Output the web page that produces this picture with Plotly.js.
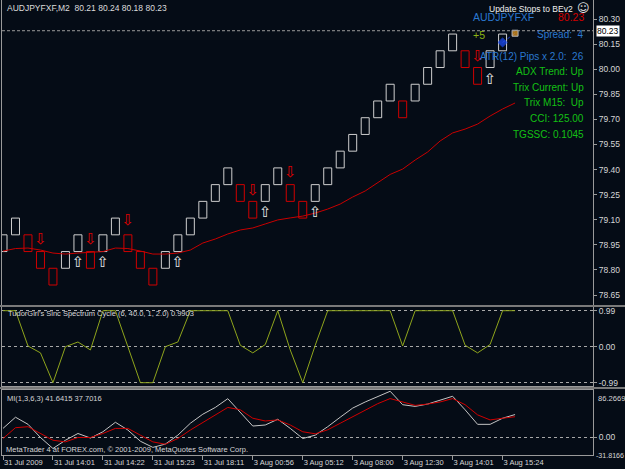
<!DOCTYPE html>
<html><head><meta charset="utf-8">
<script src="https://cdn.plot.ly/plotly-3.0.1.min.js"></script>
<style>html,body{margin:0;padding:0;background:#050c16;overflow:hidden}#chart{width:625px;height:469px}</style>
</head><body><div id="chart"></div>
<script>
// ---------- data ----------
const brickOpen  = [78.91,79.01,79.01,78.91,78.81,78.81,78.91,78.91,78.91,79.01,79.01,78.91,78.81,78.81,78.91,79.01,79.11,79.21,79.31,79.31,79.21,79.21,79.31,79.31,79.21,79.21,79.31,79.41,79.51,79.61,79.71,79.81,79.81,79.81,79.91,80.01,80.11,80.11,80.01,80.01,80.11];
const brickClose = [79.01,79.11,78.91,78.81,78.71,78.91,79.01,78.81,79.01,79.11,78.91,78.81,78.71,78.91,79.01,79.11,79.21,79.31,79.41,79.21,79.11,79.31,79.41,79.21,79.11,79.31,79.41,79.51,79.61,79.71,79.81,79.91,79.71,79.91,80.01,80.11,80.21,80.01,79.91,80.11,80.21];
const maValues = [78.913,78.928,78.931,78.919,78.901,78.895,78.901,78.907,78.910,78.931,78.928,78.913,78.895,78.895,78.901,78.919,78.961,78.985,79.015,79.039,79.051,79.075,79.099,79.111,79.122,79.140,79.164,79.194,79.236,79.272,79.320,79.371,79.403,79.457,79.505,79.571,79.619,79.642,79.672,79.720,79.762,79.798];
const downArrowIdx = [3,7,10,20,23,38];
const downArrowPrice = [78.98,78.98,79.09,79.27,79.38,80.07];
const upArrowIdx = [6,8,14,21,25,39];
const upArrowPrice = [78.84,78.84,78.84,79.14,79.14,79.935];
const orderIdx = [40,41];
const orderPrice = [80.16,80.215];
const currentPrice = 80.23;

const sincValues = [0.99,0.99,0.02,-0.17,-0.99,0.00,0.13,-0.09,0.99,0.99,0.00,-0.99,-0.99,0.00,0.13,0.99,0.99,0.99,0.99,0.04,-0.17,0.06,0.99,-0.09,-0.99,0.04,0.99,0.99,0.99,0.99,0.99,0.99,0.02,0.99,0.99,0.99,0.99,0.04,-0.17,0.06,0.99,0.9903];
const sincTickVals = [0.99,0,-0.99];
const sincTickText = ['0.99','0.00','-0.99'];

const miMain   = [16.5,36.8,24.0,0.0,-20.0,-5.0,7.3,-1.0,10.4,27.6,13.5,-6.8,-18.0,-12.0,4.2,25.8,42.3,54.6,70.5,45.4,20.8,22.7,33.1,16.5,-1.9,4.2,19.6,36.8,53.4,64.5,74.0,84.0,59.5,56.5,60.7,67.5,74.9,50.3,23.9,23.9,35.0,41.6415];
const miSignal = [-1.9,17.8,19.6,8.0,-5.0,-8.0,0.0,0.0,7.3,16.5,16.5,4.2,-8.0,-12.3,-1.9,13.5,27.6,41.1,54.6,50.3,35.0,30.0,31.9,22.7,10.4,6.7,14.0,25.8,38.1,50.3,61.4,70.7,64.5,58.3,60.7,64.5,70.7,59.5,41.1,31.9,35.0,37.7016];
const miMax = 86.2669, miMin = -31.8166;

const timeTickIdx  = [0,4,8,12,16,20,24,28,32,36,40];
const timeTickText = ['31 Jul 2009','31 Jul 14:01','31 Jul 14:22','31 Jul 15:23','31 Jul 18:11','3 Aug 00:56','3 Aug 05:12','3 Aug 08:00','3 Aug 12:30','3 Aug 14:01','3 Aug 15:24'];

const chartTitle = 'AUDJPYFXF,M2\u00a0\u00a080.21 80.24 80.18 80.23';
const sincTitle = "TudorGirl's Sinc Spectrum Cycle (6, 40.0, 1, 2.0) 0.9903";
const miTitle = 'MI(1,3,6,3) 41.6415 37.7016';
const copyright = 'MetaTrader 4 at FOREX.com, \u00a9 2001-2009, MetaQuotes Software Corp.';
const infoLabels = ['Spread:\u00a0\u00a04','ATR(12) Pips x 2.0:\u00a0\u00a026','ADX Trend: Up','Trix Current: Up','Trix M15:\u00a0\u00a0Up','CCI: 125.00','TGSSC: 0.1045'];
const infoColors = ['#2a78d0','#2a78d0','#14c014','#14c014','#14c014','#14c014','#14c014'];

// ---------- styling / layout helpers ----------
const W = 625, H = 469;
const ML = 2, MR = 32;
const PW = W - ML - MR;
const BG = '#050c16';
const FONT = 'Liberation Sans, Arial, sans-serif';
const px = x => (x - ML) / PW;
const py = y => 1 - y / H;
const dom = (top, bot) => [1 - bot / H, 1 - top / H];

const idx = brickOpen.map((_, i) => i);
const base = brickOpen.map((o, i) => Math.min(o, brickClose[i]));
const hgt = brickOpen.map((o, i) => Math.abs(brickClose[i] - o));
const lineCol = brickOpen.map((o, i) => brickClose[i] > o ? '#cfcfcf' : '#d00000');
const seq = a => a.map((_, i) => i);

const traces = [
  {type:'bar', x: idx, y: hgt, base: base, width: 0.64, xaxis:'x', yaxis:'y',
   marker:{color:'rgba(0,0,0,0)', line:{color: lineCol, width:1}}, hoverinfo:'skip'},
  {type:'scatter', mode:'lines', x: seq(maValues), y: maValues, xaxis:'x', yaxis:'y',
   line:{color:'#c80000', width:1}, hoverinfo:'skip'},
  {type:'scatter', mode:'text', x: downArrowIdx, y: downArrowPrice, text: downArrowIdx.map(()=>'\u21e9'),
   textfont:{family:'DejaVu Sans', size:15, color:'#e00000'}, xaxis:'x', yaxis:'y', hoverinfo:'skip'},
  {type:'scatter', mode:'text', x: upArrowIdx, y: upArrowPrice, text: upArrowIdx.map(()=>'\u21e7'),
   textfont:{family:'DejaVu Sans', size:15, color:'#e8e8e8'}, xaxis:'x', yaxis:'y', hoverinfo:'skip'},
  {type:'scatter', mode:'lines+markers', x: orderIdx, y: orderPrice, xaxis:'x', yaxis:'y',
   line:{color:'#1e3cc8', width:1, dash:'dot'},
   marker:{symbol:['diamond','square'], size:[7,6], color:['#1e50ff','#f0a020'], line:{color:['#1e50ff','#ffffff'], width:1}},
   hoverinfo:'skip'},
  {type:'scatter', mode:'lines', x: seq(sincValues), y: sincValues, xaxis:'x2', yaxis:'y2',
   line:{color:'#8fa51c', width:1}, hoverinfo:'skip'},
  {type:'scatter', mode:'lines', x: seq(miMain), y: miMain, xaxis:'x3', yaxis:'y3',
   line:{color:'#c4c4c4', width:1}, hoverinfo:'skip'},
  {type:'scatter', mode:'lines', x: seq(miSignal), y: miSignal, xaxis:'x3', yaxis:'y3',
   line:{color:'#d00000', width:1}, hoverinfo:'skip'}
];

const AX = '#9a9a9a';
const tickFont = {family: FONT, size: 8.5, color:'#d6d6d6'};
const xBase = {range:[-0.08, 47.24], showgrid:false, zeroline:false, showticklabels:false,
               showline:true, linecolor:AX, linewidth:1, ticks:''};
const yBase = {side:'right', showline:true, mirror:true, linecolor:AX, linewidth:1,
               zeroline:false, ticks:'outside', ticklen:3, tickcolor:AX, tickfont: tickFont,
               fixedrange:true};

const annotations = [];
function ann(text, x, y, opts) {
  annotations.push(Object.assign({text, x: px(x), y: py(y), xref:'paper', yref:'paper',
    showarrow:false, xanchor:'left', yanchor:'middle', font:{family:FONT, size:8, color:'#dcdcdc'}}, opts||{}));
}
ann(chartTitle, 5, 8, {font:{family:FONT, size:8.5, color:'#dcdcdc'}});
ann('Update Stops to BEv2', 575, 9, {xanchor:'right', font:{family:FONT, size:8.5, color:'#f0f0f0'}});
ann('\u263a', 583, 8.5, {xanchor:'center', font:{family:'DejaVu Sans', size:12, color:'#e8e8e8'}});
ann('AUDJPYFXF', 471, 17, {font:{family:FONT, size:10.5, color:'#2a78d0'}});
ann(currentPrice.toFixed(2), 586, 17, {xanchor:'right', font:{family:FONT, size:10.5, color:'#d00000'}});
ann('+5', 471, 34.5, {font:{family:FONT, size:10.5, color:'#8cb414'}});
infoLabels.forEach((t, k) => {
  const yy = [34.5, 56, 71.5, 87, 102.5, 118, 134][k];
  ann(t, 586, yy, {xanchor:'right', font:{family:FONT, size:10, color: infoColors[k]}});
});
ann(sincTitle, 6, 313.5, {font:{family:FONT, size:7.5, color:'#d6d6d6'}});
ann(miTitle, 5, 398, {font:{family:FONT, size:7.5, color:'#d6d6d6'}});
ann(copyright, 4, 449, {font:{family:FONT, size:7.5, color:'#d6d6d6'}});
ann(miMax.toFixed(4), 596, 398, {font:{family:FONT, size:7.6, color:'#d6d6d6'}});
ann(miMin.toFixed(4), 594, 456, {font:{family:FONT, size:7.1, color:'#d6d6d6'}});
annotations.push({text: currentPrice.toFixed(2), x: px(596), y: currentPrice, xref:'paper', yref:'y',
  xanchor:'left', yanchor:'middle', showarrow:false, bgcolor:'#ffffff', borderpad:0,
  font:{family:FONT, size:8.5, color:'#000000'}});

const layout = {
  width: W, height: H, paper_bgcolor: BG, plot_bgcolor: BG,
  margin:{l:ML, r:MR, t:0, b:0, pad:0, autoexpand:false},
  showlegend:false, barmode:'overlay', hovermode:false,
  xaxis: Object.assign({}, xBase, {anchor:'y', mirror:false}),
  xaxis2: Object.assign({}, xBase, {anchor:'y2', matches:'x', mirror:true}),
  xaxis3: Object.assign({}, xBase, {anchor:'y3', matches:'x', mirror:true,
     showticklabels:true, tickmode:'array', tickvals: timeTickIdx, ticktext: timeTickText,
     ticks:'outside', ticklen:4, tickcolor:AX, ticklabelposition:'outside right',
     tickfont:{family:FONT, size:7.5, color:'#d6d6d6'}}),
  yaxis: Object.assign({}, yBase, {domain: dom(0, 305), anchor:'x', range:[78.5905, 80.4136],
     tick0:78.65, dtick:0.15, tickformat:'.2f', showgrid:false}),
  yaxis2: Object.assign({}, yBase, {domain: dom(307, 386), anchor:'x2', range:[-1.081, 1.092],
     tickmode:'array', tickvals: sincTickVals, ticktext: sincTickText,
     showgrid:true, gridcolor:'#a8a8a8', griddash:'3px,3px', gridwidth:1}),
  yaxis3: Object.assign({}, yBase, {domain: dom(390, 455), anchor:'x3', range:[miMin, miMax],
     tickmode:'array', tickvals:[0], ticktext:['0.00'],
     showgrid:true, gridcolor:'#a8a8a8', griddash:'3px,3px', gridwidth:1}),
  shapes: [
    {type:'line', xref:'x domain', x0:0, x1:1, yref:'y', y0:currentPrice, y1:currentPrice,
     line:{color:'#9a9a9a', width:1, dash:'3px,2px'}},
    {type:'line', xref:'paper', x0:px(0), x1:px(W), yref:'paper', y0:py(306), y1:py(306), line:{color:'#7a7a7a', width:2}},
    {type:'line', xref:'paper', x0:px(0), x1:px(W), yref:'paper', y0:py(388), y1:py(388), line:{color:'#7a7a7a', width:2}}
  ],
  annotations: annotations
};

Plotly.newPlot('chart', traces, layout, {staticPlot:true, displayModeBar:false});
</script></body></html>
